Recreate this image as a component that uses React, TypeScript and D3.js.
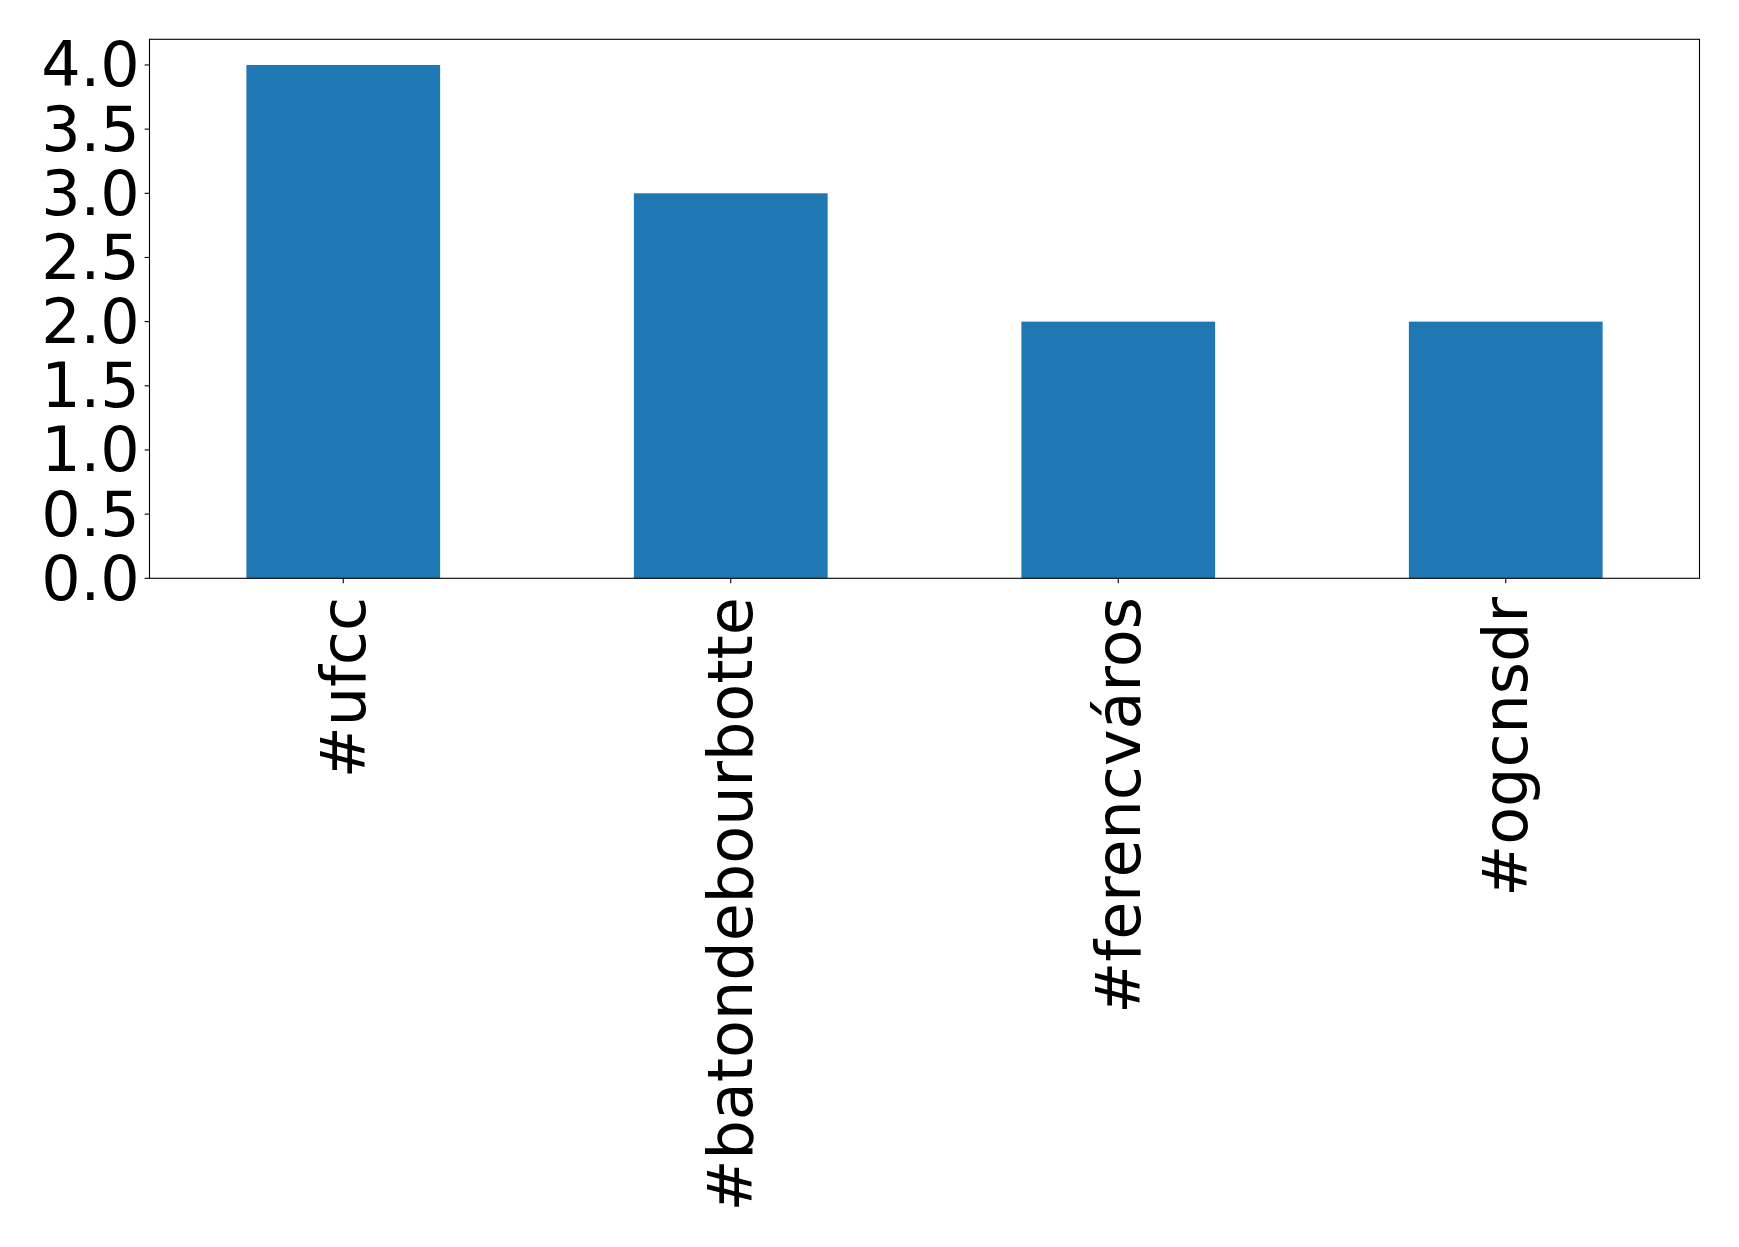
import React from "react";
import * as d3 from "d3";

const categories = ["#ufcc", "#batondebourbotte", "#ferencváros", "#ogcnsdr"];
const values = [4, 3, 2, 2];
const yTicks = [0, 0.5, 1.0, 1.5, 2.0, 2.5, 3.0, 3.5, 4.0];

const W = 1739;
const H = 1247;
const left = 149.5;
const right = 1699.5;
const top = 39.3;
const bottom = 578.3;
const FONT = "DejaVu Sans, sans-serif";
const FS = 62;

export default function App() {
  const x = d3.scaleBand<string>().domain(categories).range([left, right]).paddingInner(0.5).paddingOuter(0.25);
  const y = d3.scaleLinear().domain([0, 4.2]).range([bottom, top]);
  const tick = 4.86;
  const pad = 4.86;
  return (
    <svg width={W} height={H} style={{ position: "absolute", left: 0, top: 0 }}>
      <rect x={0} y={0} width={W} height={H} fill="#fff" />
      {categories.map((c, i) => (
        <rect key={c} x={x(c)} y={y(values[i])} width={x.bandwidth()} height={y(0) - y(values[i])} fill="#1f77b4" />
      ))}
      <rect x={left} y={top} width={right - left} height={bottom - top} fill="none" stroke="#000" strokeWidth={1.1} />
      {yTicks.map((t) => (
        <g key={t}>
          <line x1={left - tick} x2={left} y1={y(t)} y2={y(t)} stroke="#000" strokeWidth={1.1} />
          <text x={left - tick - pad} y={y(t)} textAnchor="end" dominantBaseline="central" fontFamily={FONT} fontSize={FS} fill="#000">
            {t.toFixed(1)}
          </text>
        </g>
      ))}
      {categories.map((c) => {
        const cx = (x(c) as number) + x.bandwidth() / 2;
        const ty = bottom + tick + pad + 9;
        return (
          <g key={c}>
            <line x1={cx} x2={cx} y1={bottom} y2={bottom + tick} stroke="#000" strokeWidth={1.1} />
            <text transform={`translate(${cx},${ty}) rotate(-90)`} textAnchor="end" dominantBaseline="central" fontFamily={FONT} fontSize={FS} fill="#000">
              {c}
            </text>
          </g>
        );
      })}
    </svg>
  );
}
